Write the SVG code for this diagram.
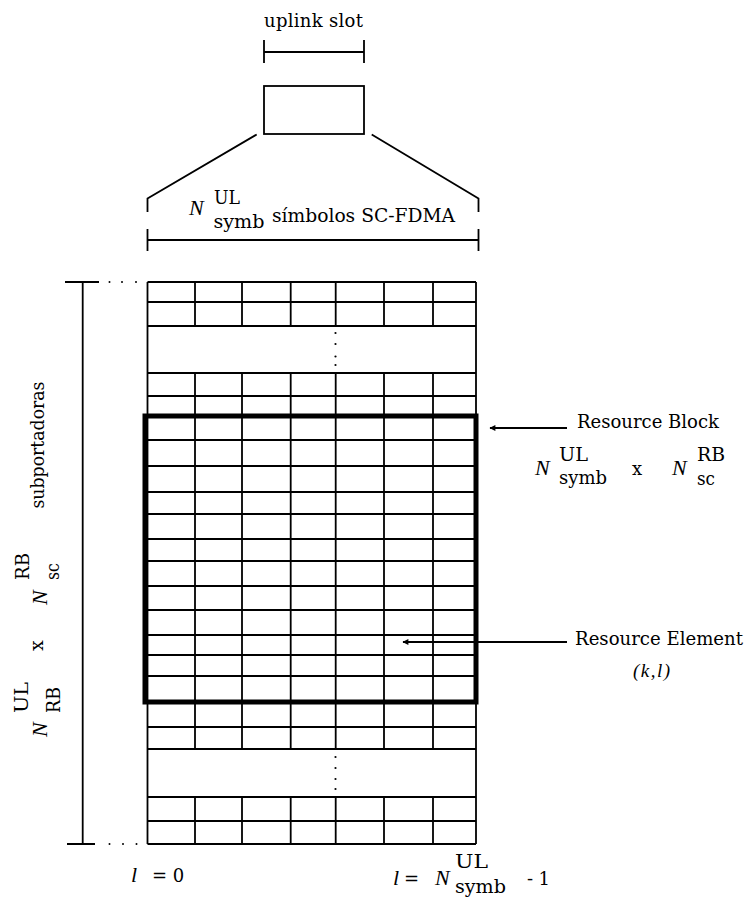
<svg xmlns="http://www.w3.org/2000/svg" width="750" height="903" viewBox="0 0 750 903">
<defs>
<style>
.ln{stroke:#000;stroke-width:1.8;fill:none}
.thick{stroke:#000;stroke-width:5;fill:none}
.t{font-family:"DejaVu Serif","Liberation Serif",serif;font-size:18px;fill:#000}
.n{font-family:"Liberation Serif",serif;font-style:italic;font-size:22px;fill:#000}
.it{font-family:"Liberation Serif",serif;font-style:italic;font-size:19px;fill:#000}
.r{font-family:"DejaVu Serif","Liberation Serif",serif;font-size:19px;fill:#000}
.dot{fill:#000}
</style>
<marker id="ah" viewBox="0 0 10 10" refX="9" refY="5" markerWidth="8" markerHeight="6" markerUnits="userSpaceOnUse" orient="auto">
<path d="M0,0 L10,5 L0,10 z" fill="#000"/>
</marker>
</defs>
<rect width="750" height="903" fill="#fff"/>

<g id="uplink-slot">
<text class="t" x="264" y="27" textLength="99" lengthAdjust="spacing">uplink slot</text>
</g>

<g id="slot-box">
<rect class="ln" x="264" y="86" width="100" height="48"/>
</g>

<g id="symbols-label">
<text class="n" x="189" y="215">N</text>
<text class="t" x="214" y="204" textLength="26" lengthAdjust="spacingAndGlyphs">UL</text>
<text class="t" x="213.5" y="227.5" textLength="51" lengthAdjust="spacingAndGlyphs">symb</text>
<text class="t" x="272" y="222" textLength="183" lengthAdjust="spacingAndGlyphs">símbolos SC-FDMA</text>
</g>

<g id="grid">
<path class="ln" d="M147.5,282 V844 M476,282 V844
M195,282 V326 M242,282 V326 M290.7,282 V326 M335.7,282 V326 M384,282 V326 M433,282 V326
M195,373 V749 M242,373 V749 M290.7,373 V749 M335.7,373 V749 M384,373 V749 M433,373 V749
M195,797 V844 M242,797 V844 M290.7,797 V844 M335.7,797 V844 M384,797 V844 M433,797 V844
M147.5,282 H476 M147.5,302 H476 M147.5,326 H476 M147.5,373 H476 M147.5,396 H476
M147.5,440 H476 M147.5,466 H476 M147.5,492 H476 M147.5,514 H476 M147.5,539 H476 M147.5,561 H476
M147.5,586 H476 M147.5,610 H476 M147.5,635 H476 M147.5,655 H476 M147.5,676 H476
M147.5,727 H476 M147.5,749 H476 M147.5,797 H476 M147.5,821 H476 M147.5,844 H476"/>
<circle class="dot" cx="335.5" cy="333" r="1.1"/>
<circle class="dot" cx="335.5" cy="344" r="1.1"/>
<circle class="dot" cx="335.5" cy="356.5" r="1.1"/>
<circle class="dot" cx="335.5" cy="365" r="1.1"/>
<circle class="dot" cx="335.5" cy="757" r="1.1"/>
<circle class="dot" cx="335.5" cy="768" r="1.1"/>
<circle class="dot" cx="335.5" cy="779" r="1.1"/>
<circle class="dot" cx="335.5" cy="789" r="1.1"/>
</g>

<g id="resource-block-box">
<rect class="thick" x="145" y="416" width="331" height="286"/>
</g>

<g id="resource-block">
<text class="t" x="577" y="428" textLength="142" lengthAdjust="spacingAndGlyphs">Resource Block</text>
<text class="n" x="535" y="475">N</text>
<text class="t" x="559" y="461" textLength="29" lengthAdjust="spacingAndGlyphs">UL</text>
<text class="t" x="559" y="483.5" textLength="48" lengthAdjust="spacingAndGlyphs">symb</text>
<text class="t" x="632" y="475">x</text>
<text class="n" x="672" y="475">N</text>
<text class="t" x="697" y="461" textLength="28" lengthAdjust="spacingAndGlyphs">RB</text>
<text class="t" x="697" y="485" textLength="18" lengthAdjust="spacingAndGlyphs">sc</text>
</g>

<g id="resource-element">
<text class="t" x="575" y="645" textLength="168" lengthAdjust="spacingAndGlyphs">Resource  Element</text>
<text class="it" x="633" y="677" textLength="37" lengthAdjust="spacing">(k,l)</text>
</g>

<g id="left-axis">
<circle class="dot" cx="109.5" cy="282" r="1"/>
<circle class="dot" cx="122" cy="282" r="1"/>
<circle class="dot" cx="136" cy="282" r="1"/>
<circle class="dot" cx="109.5" cy="844" r="1"/>
<circle class="dot" cx="123" cy="844" r="1"/>
<circle class="dot" cx="136.5" cy="844" r="1"/>
<text class="r" transform="translate(43.5,508.5) rotate(-90)" textLength="127" lengthAdjust="spacingAndGlyphs">subportadoras</text>
<text class="n" transform="translate(47,605) rotate(-90)">N</text>
<text class="r" transform="translate(29,580) rotate(-90)" textLength="27" lengthAdjust="spacingAndGlyphs">RB</text>
<text class="r" transform="translate(59,580) rotate(-90)" textLength="17" lengthAdjust="spacingAndGlyphs">sc</text>
<text class="r" transform="translate(43,651) rotate(-90)">x</text>
<text class="r" transform="translate(28,713) rotate(-90)" textLength="31" lengthAdjust="spacingAndGlyphs">UL</text>
<text class="r" transform="translate(60,713) rotate(-90)" textLength="26" lengthAdjust="spacingAndGlyphs">RB</text>
<text class="n" transform="translate(47,737) rotate(-90)">N</text>
</g>

<g id="axis-labels">
<text class="n" x="131" y="882">l</text>
<text class="t" x="152" y="882">= 0</text>
<text class="n" x="393" y="885">l</text>
<text class="t" x="404" y="885">=</text>
<text class="n" x="435" y="885">N</text>
<text class="t" x="455" y="868" textLength="33" lengthAdjust="spacingAndGlyphs">UL</text>
<text class="t" x="455" y="892.5" textLength="51" lengthAdjust="spacingAndGlyphs">symb</text>
<text class="t" x="527" y="885" textLength="23" lengthAdjust="spacing">- 1</text>
</g>

<g id="connectors">
<path class="ln" d="M264,52 H364 M264,40 V63 M364,40 V63"/>
<path class="ln" d="M256.7,134.5 L147.5,198.5 V212 M371.7,134.5 L478.5,198.5 V212"/>
<path class="ln" d="M147.5,240 H478.5 M147.5,229 V251 M478.5,229 V251"/>
<path class="ln" d="M82.7,282 V844 M65,282 H99 M67,844 H95"/>
<line class="ln" x1="567" y1="428" x2="490" y2="428" marker-end="url(#ah)"/>
<line class="ln" x1="567" y1="642" x2="403" y2="642" marker-end="url(#ah)"/>
</g>
</svg>
